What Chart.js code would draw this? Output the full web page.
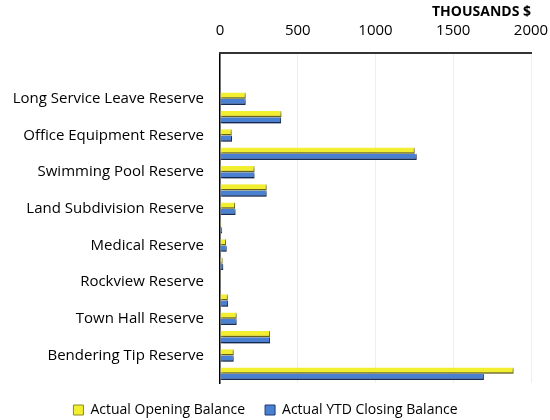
<!DOCTYPE html>
<html>
<head>
<meta charset="utf-8">
<script src="https://cdn.jsdelivr.net/npm/chart.js@4.4.0/dist/chart.umd.min.js"></script>
<style>
  html, body { margin: 0; padding: 0; background: #ffffff; }
  #wrap { width: 550px; height: 420px; }
</style>
</head>
<body>
<div id="wrap"><canvas id="c" width="550" height="420"></canvas></div>
<script>
const categories = ["", "", "Long Service Leave Reserve", "", "Office Equipment Reserve", "",
  "Swimming Pool Reserve", "", "Land Subdivision Reserve", "", "Medical Reserve", "",
  "Rockview Reserve", "", "Town Hall Reserve", "", "Bendering Tip Reserve", ""];
const openingBalance = [null, null, 165, 395, 75, 1252, 222, 300, 97, 8, 39, 17, 5, 50, 107, 322, 88, 1888];
const closingBalance = [null, null, 165, 393, 77, 1265, 222, 300, 100, 14, 43, 21, 5, 52, 107, 322, 88, 1697];
const seriesNames = ["Actual Opening Balance", "Actual YTD Closing Balance"];
const xTicks = { min: 0, max: 2000, step: 500 };
const axisTitle = "THOUSANDS $";

const FONT = "'Open Sans', 'Liberation Sans', sans-serif";

const shadowPlugin = {
  id: 'barShadow',
  beforeDatasetsDraw(chart) {
    const ctx = chart.ctx;
    ctx.save();
    ctx.shadowColor = 'rgba(0,0,0,0.35)';
    ctx.shadowBlur = 2;
    ctx.shadowOffsetX = 1.5;
    ctx.shadowOffsetY = 1.5;
  },
  afterDatasetsDraw(chart) {
    chart.ctx.restore();
  }
};

const topEdgePlugin = {
  id: 'topEdge',
  afterDraw(chart) {
    const { ctx, chartArea: a } = chart;
    ctx.save();
    ctx.setTransform(1, 0, 0, 1, 0, 0);
    const r = chart.currentDevicePixelRatio || 1;
    ctx.fillStyle = '#333333';
    ctx.fillRect(Math.floor(a.left - 1) * r, Math.round(a.top - 1) * r, (Math.round(a.right - a.left) + 2) * r, 2 * r);
    ctx.restore();
  }
};

new Chart(document.getElementById('c'), {
  type: 'bar',
  data: {
    labels: categories,
    datasets: [
      {
        label: seriesNames[0],
        data: openingBalance,
        backgroundColor: '#f2ee30',
        borderColor: '#8e8a24',
        borderWidth: { top: 0, right: 1, bottom: 1.5, left: 0 },
        borderSkipped: false,
        categoryPercentage: 0.68,
        barPercentage: 1.0
      },
      {
        label: seriesNames[1],
        data: closingBalance,
        backgroundColor: '#4a80d2',
        borderColor: '#1f3b70',
        borderWidth: { top: 0, right: 1, bottom: 1.5, left: 0 },
        borderSkipped: false,
        categoryPercentage: 0.68,
        barPercentage: 1.0
      }
    ]
  },
  options: {
    indexAxis: 'y',
    responsive: false,
    animation: false,
    layout: { padding: { left: 0, right: 19, top: 0, bottom: 0 } },
    scales: {
      x: {
        position: 'top',
        min: xTicks.min,
        max: xTicks.max,
        ticks: {
          stepSize: xTicks.step,
          color: '#000000',
          font: { family: FONT, size: 15 },
          padding: 13,
          callback: (v) => String(v)
        },
        grid: {
          color: '#eeeeee',
          lineWidth: 1,
          drawTicks: false
        },
        border: { display: true, color: '#333333', width: 2 },
        title: {
          display: true,
          text: axisTitle,
          align: 'end',
          color: '#000000',
          font: { family: FONT, size: 14, weight: 'bold' },
          padding: { top: 4, bottom: 0 }
        },
        afterFit(scale) {
          scale.height = 53;
          scale.paddingLeft = 0;
          scale.paddingRight = 0;
        }
      },
      y: {
        ticks: {
          autoSkip: false,
          color: '#000000',
          font: { family: FONT, size: 15 },
          padding: 16
        },
        grid: { display: false, drawTicks: false },
        border: { display: true, color: '#000000', width: 1.5 },
        afterFit(scale) { scale.width = 220; }
      }
    },
    plugins: {
      legend: {
        position: 'bottom',
        maxHeight: 37,
        labels: {
          boxWidth: 10,
          boxHeight: 10,
          padding: 20,
          color: '#000000',
          font: { family: FONT, size: 14 },
          generateLabels(chart) {
            return chart.data.datasets.map((ds, i) => ({
              text: ds.label,
              fillStyle: ds.backgroundColor,
              strokeStyle: ds.borderColor,
              lineWidth: 1,
              datasetIndex: i,
              hidden: false
            }));
          }
        }
      },
      tooltip: { enabled: false }
    }
  },
  plugins: [shadowPlugin, topEdgePlugin]
});
</script>
</body>
</html>
